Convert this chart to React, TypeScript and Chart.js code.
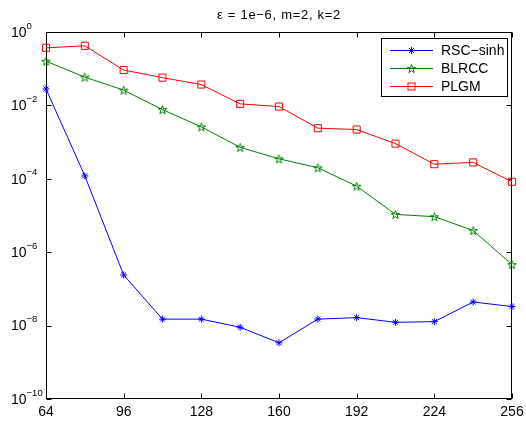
import React, { useEffect, useRef } from 'react';
import { Chart, registerables } from 'chart.js';

Chart.register(...registerables);

const TITLE = 'ε = 1e−6, m=2, k=2';
const xValues = [64, 80, 96, 112, 128, 144, 160, 176, 192, 208, 224, 240, 256];
const xTicks = [64, 96, 128, 160, 192, 224, 256];
const yTickExponents = [0, -2, -4, -6, -8, -10];
const seriesLabels = ['RSC−sinh', 'BLRCC', 'PLGM'];
const rscSinh = [2.8e-2, 1.2e-4, 2.4e-7, 1.5e-8, 1.5e-8, 9.0e-9, 3.4e-9, 1.5e-8, 1.65e-8, 1.23e-8, 1.28e-8, 4.4e-8, 3.3e-8];
const blrcc = [0.16, 5.9e-2, 2.6e-2, 7.7e-3, 2.6e-3, 7.2e-4, 3.5e-4, 2.0e-4, 6.3e-5, 1.07e-5, 9.3e-6, 3.9e-6, 4.6e-7];
const plgm = [0.37, 0.42, 9.2e-2, 5.7e-2, 3.7e-2, 1.1e-2, 9.3e-3, 2.4e-3, 2.2e-3, 9.1e-4, 2.5e-4, 2.8e-4, 8.3e-5];

const FONT = '"Liberation Sans", Arial, Helvetica, sans-serif';
const BLUE = 'rgb(0,0,255)';
const GREEN = 'rgb(0,128,0)';
const RED = 'rgb(255,0,0)';

function drawPentagram(ctx: CanvasRenderingContext2D, cx: number, cy: number, r: number, color: string) {
  ctx.save();
  ctx.beginPath();
  for (let i = 0; i < 10; i++) {
    const rr = i % 2 === 0 ? r : r * 0.382;
    const a = -Math.PI / 2 + (i * Math.PI) / 5;
    const px = cx + rr * Math.cos(a);
    const py = cy + rr * Math.sin(a);
    if (i === 0) ctx.moveTo(px, py);
    else ctx.lineTo(px, py);
  }
  ctx.closePath();
  ctx.strokeStyle = color;
  ctx.lineWidth = 1;
  ctx.stroke();
  ctx.restore();
}

function drawAsterisk(ctx: CanvasRenderingContext2D, cx: number, cy: number, r: number, color: string) {
  ctx.save();
  ctx.beginPath();
  for (let i = 0; i < 4; i++) {
    const a = (i * Math.PI) / 4;
    ctx.moveTo(cx - r * Math.cos(a), cy - r * Math.sin(a));
    ctx.lineTo(cx + r * Math.cos(a), cy + r * Math.sin(a));
  }
  ctx.strokeStyle = color;
  ctx.lineWidth = 1;
  ctx.stroke();
  ctx.restore();
}

function drawSquare(ctx: CanvasRenderingContext2D, cx: number, cy: number, s: number, color: string) {
  ctx.save();
  ctx.strokeStyle = color;
  ctx.lineWidth = 1;
  ctx.strokeRect(cx - s / 2, cy - s / 2, s, s);
  ctx.restore();
}

function makePentagramImage(color: string, r: number): HTMLCanvasElement {
  const size = 13;
  const c = document.createElement('canvas');
  c.width = size;
  c.height = size;
  const ctx = c.getContext('2d')!;
  drawPentagram(ctx, size / 2, size / 2 + 0.5, r, color);
  return c;
}

const framePlugin = {
  id: 'matlabFrame',
  beforeDatasetsDraw(chart: any) {
    const { ctx, chartArea: a, scales } = chart;
    const L = Math.round(a.left) + 0.5;
    const R = Math.round(a.right) - 0.5;
    const T = Math.round(a.top) + 0.5;
    const B = Math.round(a.bottom) - 0.5;
    ctx.save();
    ctx.strokeStyle = '#000';
    ctx.lineWidth = 1;
    ctx.strokeRect(L, T, R - L, B - T);
    ctx.beginPath();
    const tl = 5;
    xTicks.forEach((v) => {
      const px = Math.round(scales.x.getPixelForValue(v)) + 0.5;
      ctx.moveTo(px, B);
      ctx.lineTo(px, B - tl);
      ctx.moveTo(px, T);
      ctx.lineTo(px, T + tl);
    });
    yTickExponents.forEach((e) => {
      const py = Math.round(scales.y.getPixelForValue(Math.pow(10, e))) + 0.5;
      ctx.moveTo(L, py);
      ctx.lineTo(L + tl, py);
      ctx.moveTo(R, py);
      ctx.lineTo(R - tl, py);
    });
    ctx.stroke();

    ctx.fillStyle = '#000';
    // x tick labels
    ctx.font = `14px ${FONT}`;
    ctx.textAlign = 'center';
    ctx.textBaseline = 'middle';
    xTicks.forEach((v) => {
      const px = scales.x.getPixelForValue(v);
      ctx.fillText(String(v), px, a.bottom + 13);
    });

    // y tick labels with superscript exponents
    ctx.textAlign = 'left';
    ctx.textBaseline = 'middle';
    yTickExponents.forEach((e) => {
      const py = scales.y.getPixelForValue(Math.pow(10, e));
      ctx.font = `14px ${FONT}`;
      ctx.fillText('10', 11, py + 1);
      const w = ctx.measureText('10').width;
      ctx.font = `9.5px ${FONT}`;
      const expStr = e === 0 ? '0' : '−' + Math.abs(e);
      ctx.fillText(expStr, 11 + w, py - 6);
    });
    ctx.restore();
  },
  afterDraw(chart: any) {
    const { ctx, chartArea: a } = chart;
    ctx.save();
    // title
    ctx.fillStyle = '#000';
    ctx.font = `13px ${FONT}`;
    try {
      (ctx as any).letterSpacing = '0.7px';
    } catch (err) {}
    ctx.textAlign = 'center';
    ctx.textBaseline = 'alphabetic';
    ctx.fillText(TITLE, (a.left + a.right) / 2, 19);
    try {
      (ctx as any).letterSpacing = '0px';
    } catch (err) {}

    // legend
    const bx = 381.5, by = 38.5, bw = 126, bh = 58;
    ctx.fillStyle = '#fff';
    ctx.fillRect(bx, by, bw, bh);
    ctx.strokeStyle = '#000';
    ctx.lineWidth = 1;
    ctx.strokeRect(bx, by, bw, bh);
    const rows = [50.5, 68.5, 86.5];
    const colors = [BLUE, GREEN, RED];
    rows.forEach((y, i) => {
      ctx.beginPath();
      ctx.strokeStyle = colors[i];
      ctx.lineWidth = 1;
      ctx.moveTo(390, y);
      ctx.lineTo(433, y);
      ctx.stroke();
      const mx = 411.5;
      if (i === 0) drawAsterisk(ctx, mx, y, 3.5, colors[i]);
      else if (i === 1) drawPentagram(ctx, mx, y + 0.5, 4.5, colors[i]);
      else drawSquare(ctx, mx, y, 7, colors[i]);
      ctx.fillStyle = '#000';
      ctx.font = `14px ${FONT}`;
      ctx.textAlign = 'left';
      ctx.textBaseline = 'middle';
      ctx.fillText(seriesLabels[i], 441, y + 0.5);
    });
    ctx.restore();
  },
};

export default function App() {
  const canvasRef = useRef<HTMLCanvasElement | null>(null);

  useEffect(() => {
    const canvas = canvasRef.current;
    if (!canvas) return;
    const pent = makePentagramImage(GREEN, 4.5);
    const mk = (vals: number[]) => xValues.map((x, i) => ({ x, y: vals[i] }));
    const chart = new Chart(canvas, {
      type: 'line',
      data: {
        datasets: [
          {
            label: seriesLabels[0],
            data: mk(rscSinh),
            borderColor: BLUE,
            borderWidth: 1,
            pointStyle: 'star',
            pointRadius: 3.5,
            pointBorderColor: BLUE,
            pointBackgroundColor: 'rgba(0,0,0,0)',
            pointBorderWidth: 1,
            fill: false,
            tension: 0,
            clip: false,
          } as any,
          {
            label: seriesLabels[1],
            data: mk(blrcc),
            borderColor: GREEN,
            borderWidth: 1,
            pointStyle: pent,
            pointRadius: 4.5,
            pointBorderColor: GREEN,
            pointBackgroundColor: 'rgba(0,0,0,0)',
            pointBorderWidth: 1,
            fill: false,
            tension: 0,
            clip: false,
          } as any,
          {
            label: seriesLabels[2],
            data: mk(plgm),
            borderColor: RED,
            borderWidth: 1,
            pointStyle: 'rect',
            pointRadius: 5,
            pointBorderColor: RED,
            pointBackgroundColor: 'rgba(0,0,0,0)',
            pointBorderWidth: 1,
            fill: false,
            tension: 0,
            clip: false,
          } as any,
        ],
      },
      options: {
        animation: false,
        responsive: false,
        events: [],
        layout: { padding: { top: 32, right: 14, left: 0, bottom: 0 } },
        plugins: {
          legend: { display: false },
          tooltip: { enabled: false },
          title: { display: false },
        },
        scales: {
          x: {
            type: 'linear',
            min: 64,
            max: 256,
            afterBuildTicks: (s: any) => {
              s.ticks = xTicks.map((v) => ({ value: v }));
            },
            afterFit: (s: any) => {
              s.height = 27;
            },
            ticks: { display: false },
            grid: { display: false },
            border: { display: false },
          },
          y: {
            type: 'logarithmic',
            min: 1e-10,
            max: 1,
            afterBuildTicks: (s: any) => {
              s.ticks = yTickExponents.map((e) => ({ value: Math.pow(10, e) }));
            },
            afterFit: (s: any) => {
              s.width = 46;
            },
            ticks: { display: false },
            grid: { display: false },
            border: { display: false },
          },
        },
      } as any,
      plugins: [framePlugin],
    });
    return () => chart.destroy();
  }, []);

  return (
    <div style={{ position: 'absolute', left: 0, top: 0, width: 526, height: 426, background: '#fff' }}>
      <canvas ref={canvasRef} width={526} height={426} style={{ display: 'block' }} />
    </div>
  );
}
